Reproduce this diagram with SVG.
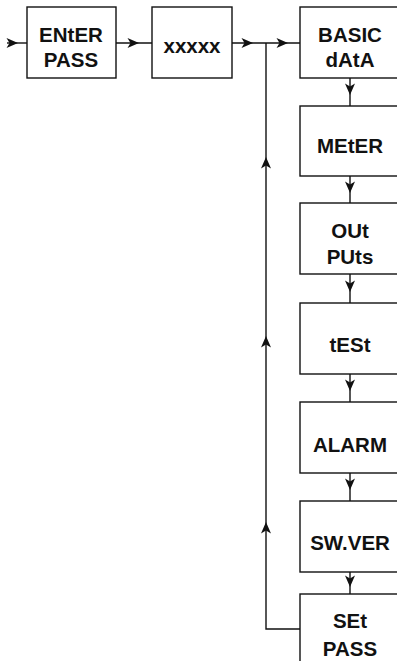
<svg xmlns="http://www.w3.org/2000/svg" width="397" height="661" viewBox="0 0 397 661">
<style>
.box{fill:#fff;stroke:#111;stroke-width:1.4}
.ln{fill:none;stroke:#111;stroke-width:1.4}
.t{font-family:"Liberation Sans",Arial,Helvetica,sans-serif;font-weight:bold;font-size:20.5px;fill:#111;text-anchor:middle}
</style>
<defs>
<path id="ah" d="M0,0 L-11.5,-5 L-8.5,0 L-11.5,5 Z" fill="#111"/>
</defs>
<rect width="397" height="661" fill="#fff"/>
<g id="connectors">
<line class="ln" x1="7" y1="43" x2="27" y2="43"/>
<use href="#ah" transform="translate(18,43)"/>
<line class="ln" x1="116" y1="43" x2="152" y2="43"/>
<use href="#ah" transform="translate(139,43)"/>
<line class="ln" x1="232" y1="43" x2="300" y2="43"/>
<use href="#ah" transform="translate(253,43)"/>
<use href="#ah" transform="translate(288,43)"/>
<polyline class="ln" points="300,629 266,629 266,43"/>
<use href="#ah" transform="translate(266,157) rotate(-90)"/>
<use href="#ah" transform="translate(266,336) rotate(-90)"/>
<use href="#ah" transform="translate(266,522) rotate(-90)"/>
<line class="ln" x1="350" y1="78" x2="350" y2="106"/>
<use href="#ah" transform="translate(350,95) rotate(90)"/>
<line class="ln" x1="350" y1="176" x2="350" y2="203"/>
<use href="#ah" transform="translate(350,193) rotate(90)"/>
<line class="ln" x1="350" y1="274" x2="350" y2="303"/>
<use href="#ah" transform="translate(350,292) rotate(90)"/>
<line class="ln" x1="350" y1="374" x2="350" y2="402"/>
<use href="#ah" transform="translate(350,391) rotate(90)"/>
<line class="ln" x1="350" y1="473" x2="350" y2="501"/>
<use href="#ah" transform="translate(350,490) rotate(90)"/>
<line class="ln" x1="350" y1="572" x2="350" y2="594"/>
<use href="#ah" transform="translate(350,587) rotate(90)"/>
</g>
<g id="enter-pass">
<rect class="box" x="27" y="7" width="89" height="71"/>
<text class="t" x="71" y="42">ENtER</text>
<text class="t" x="71" y="67">PASS</text>
</g>
<g id="xxxxx">
<rect class="box" x="152" y="7" width="80" height="71"/>
<text class="t" x="192" y="53">xxxxx</text>
</g>
<g id="basic-data">
<rect class="box" x="300" y="7" width="100" height="71"/>
<text class="t" x="350" y="42">BASIC</text>
<text class="t" x="350" y="67">dAtA</text>
</g>
<g id="meter">
<rect class="box" x="300" y="106" width="100" height="70"/>
<text class="t" x="350" y="153">MEtER</text>
</g>
<g id="outputs">
<rect class="box" x="300" y="203" width="100" height="71"/>
<text class="t" x="350" y="238">OUt</text>
<text class="t" x="350" y="264">PUts</text>
</g>
<g id="test">
<rect class="box" x="300" y="303" width="100" height="71"/>
<text class="t" x="350" y="352">tESt</text>
</g>
<g id="alarm">
<rect class="box" x="300" y="402" width="100" height="71"/>
<text class="t" x="350" y="452">ALARM</text>
</g>
<g id="sw-ver">
<rect class="box" x="300" y="501" width="100" height="71"/>
<text class="t" x="350" y="550">SW.VER</text>
</g>
<g id="set-pass">
<rect class="box" x="300" y="594" width="100" height="80"/>
<text class="t" x="350" y="628">SEt</text>
<text class="t" x="350" y="656">PASS</text>
</g>
</svg>
